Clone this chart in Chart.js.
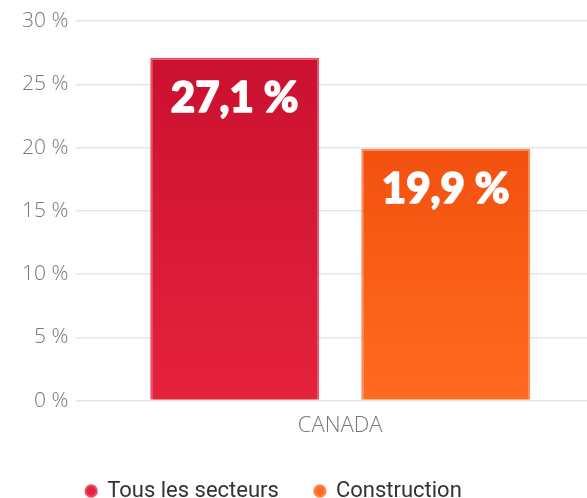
<!DOCTYPE html>
<html>
<head>
<meta charset="utf-8">
<script src="https://cdn.jsdelivr.net/npm/chart.js@4"></script>
<style>
  html, body { margin: 0; padding: 0; background: #fff; overflow: hidden; }
  #wrap { width: 587px; height: 498px; overflow: hidden; }
</style>
</head>
<body>
<div id="wrap"><canvas id="myChart" width="604" height="512"></canvas></div>
<script>
const categories = ["CANADA"];
const seriesNames = ["Tous les secteurs", "Construction"];
const tousValues = [27.1];
const constructionValues = [19.9];
const yTicks = [0, 5, 10, 15, 20, 25, 30];

function gradient(ctx, top, bottom) {
  const area = ctx.chart.chartArea;
  if (!area) return bottom;
  const g = ctx.chart.ctx.createLinearGradient(0, area.top, 0, area.bottom);
  g.addColorStop(0, top);
  g.addColorStop(1, bottom);
  return g;
}

// white value text inside the top of each bar
const valueLabels = {
  id: "valueLabels",
  afterDatasetsDraw(chart) {
    const c = chart.ctx;
    c.save();
    c.fillStyle = "#ffffff";
    c.strokeStyle = "#ffffff";
    c.lineWidth = 1.6;
    c.lineJoin = "round";
    c.font = "900 42px Lato";
    c.textAlign = "center";
    c.textBaseline = "middle";
    chart.data.datasets.forEach((ds, i) => {
      chart.getDatasetMeta(i).data.forEach((bar, j) => {
        const txt = ds.data[j].toFixed(1).replace(".", ",") + " %";
        c.strokeText(txt, bar.x, bar.y + 41);
        c.fillText(txt, bar.x, bar.y + 41);
      });
    });
    c.restore();
  },
};

// legend sits a bit left of centre in the original
const shiftLegend = {
  id: "shiftLegend",
  afterLayout(chart) {
    chart.legend.left -= 35;
    chart.legend.right -= 35;
  },
};

const data = {
  labels: categories,
  datasets: [
    {
      label: seriesNames[0],
      data: tousValues,
      backgroundColor: (ctx) => gradient(ctx, "#c80f2f", "#e5223c"),
      borderColor: "#ea5068",
      borderWidth: 2,
      borderSkipped: "bottom",
    },
    {
      label: seriesNames[1],
      data: constructionValues,
      backgroundColor: (ctx) => gradient(ctx, "#ec4407", "#ff6b20"),
      borderColor: "#f88a52",
      borderWidth: 2,
      borderSkipped: "bottom",
    },
  ],
};

const config = {
  type: "bar",
  data: data,
  options: {
    responsive: false,
    animation: false,
    categoryPercentage: 0.8,
    barPercentage: 0.8,
    layout: { padding: { top: 21, bottom: 0, left: 14, right: 0 } },
    scales: {
      x: {
        grid: { display: false },
        border: { display: false },
        afterFit: (axis) => { axis.height += 1; },
        ticks: { color: "#777", font: { family: "Open Sans", size: 22, weight: 300 }, padding: 4 },
      },
      y: {
        min: 0,
        max: 30,
        afterBuildTicks: (axis) => { axis.ticks = yTicks.map((v) => ({ value: v })); },
        grid: { color: "#e6e6e6", lineWidth: 1.5, drawTicks: false },
        border: { display: false },
        ticks: {
          color: "#777",
          font: { family: "Open Sans", size: 21, weight: 300 },
          padding: 8,
          callback: (v) => v + " %",
        },
      },
    },
    plugins: {
      legend: {
        position: "bottom",
        labels: {
          usePointStyle: true,
          pointStyle: "circle",
          boxWidth: 10,
          boxHeight: 8,
          padding: 36,
          color: "#333",
          font: { family: "Roboto", size: 22 },
        },
      },
      tooltip: { enabled: false },
    },
  },
  plugins: [valueLabels, shiftLegend],
};

let myChart = new Chart(document.getElementById("myChart"), config);
</script>
</body>
</html>
